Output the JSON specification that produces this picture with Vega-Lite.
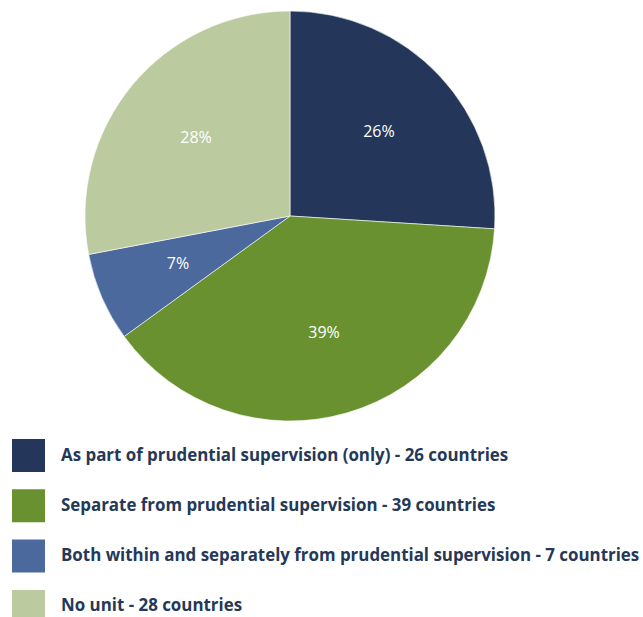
{
  "$schema": "https://vega.github.io/schema/vega-lite/v6.json",
  "width": 580,
  "height": 432,
  "padding": 0,
  "background": "white",
  "config": {"view": {"stroke": null}},
  "data": {
    "values": [
      {"category": "As part of prudential supervision (only) - 26 countries", "value": 26, "label": "26%", "order": 1},
      {"category": "Separate from prudential supervision - 39 countries", "value": 39, "label": "39%", "order": 2},
      {"category": "Both within and separately from prudential supervision - 7 countries", "value": 7, "label": "7%", "order": 3},
      {"category": "No unit - 28 countries", "value": 28, "label": "28%", "order": 4}
    ]
  },
  "encoding": {
    "theta": {"field": "value", "type": "quantitative", "stack": true},
    "order": {"field": "order", "type": "quantitative"},
    "color": {
      "field": "category",
      "type": "nominal",
      "sort": {"field": "order"},
      "scale": {
        "domain": [
          "As part of prudential supervision (only) - 26 countries",
          "Separate from prudential supervision - 39 countries",
          "Both within and separately from prudential supervision - 7 countries",
          "No unit - 28 countries"
        ],
        "range": ["#24375a", "#6a912f", "#4b699d", "#bcca9f"]
      },
      "legend": {
        "orient": "none",
        "legendX": 12,
        "legendY": 439,
        "title": null,
        "symbolType": "square",
        "symbolSize": 1089,
        "symbolStrokeWidth": 0,
        "symbolOpacity": 1,
        "labelFont": "Open Sans",
        "labelFontWeight": "bold",
        "labelFontSize": 16.9,
        "labelColor": "#253858",
        "labelOffset": 16,
        "labelLimit": 700,
        "rowPadding": 17.3,
        "padding": 0
      }
    }
  },
  "layer": [
    {"mark": {"type": "arc", "outerRadius": 205, "stroke": "#ffffff", "strokeWidth": 0.6}},
    {
      "mark": {"type": "text", "radius": 122, "fill": "#ffffff", "font": "Open Sans", "fontSize": 16},
      "encoding": {"text": {"field": "label", "type": "nominal"}}
    }
  ]
}
